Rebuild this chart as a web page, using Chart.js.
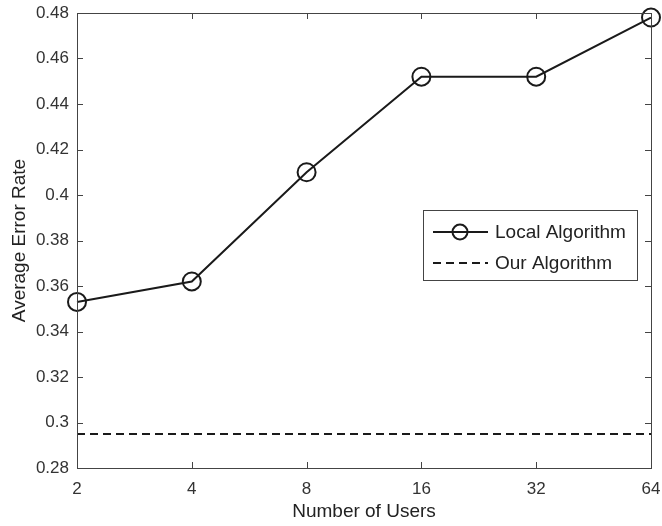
<!DOCTYPE html>
<html>
<head>
<meta charset="utf-8">
<script src="https://cdn.jsdelivr.net/npm/chart.js@4"></script>
<style>
  body { margin: 0; background: #fff; }
  #wrap { width: 662px; height: 526px; }
</style>
</head>
<body>
<div id="wrap"><canvas id="c" width="662" height="526"></canvas></div>
<script>
// data
const users = ['2', '4', '8', '16', '32', '64'];
const localAlgorithm = [0.353, 0.362, 0.410, 0.452, 0.452, 0.478];
const ourAlgorithm = [0.295, 0.295, 0.295, 0.295, 0.295, 0.295];
const yTicks = [0.28, 0.30, 0.32, 0.34, 0.36, 0.38, 0.40, 0.42, 0.44, 0.46, 0.48];

const axisColor = '#444';
const font = "'Liberation Sans', Arial, sans-serif";

// matlab style box with inward ticks on all four sides
const boxPlugin = {
    id: 'box',
    afterDraw(chart) {
        const ctx = chart.ctx;
        const a = chart.chartArea;
        const x = chart.scales.x, y = chart.scales.y;
        ctx.save();
        ctx.strokeStyle = axisColor;
        ctx.lineWidth = 1;
        ctx.strokeRect(Math.round(a.left) + 0.5, Math.round(a.top) + 0.5,
            Math.round(a.right - a.left), Math.round(a.bottom - a.top));
        ctx.beginPath();
        for (let i = 0; i < users.length; i++) {
            let px = Math.round(x.getPixelForValue(i)) + 0.5;
            ctx.moveTo(px, a.bottom); ctx.lineTo(px, a.bottom - 6);
            ctx.moveTo(px, a.top); ctx.lineTo(px, a.top + 6);
        }
        for (let i = 0; i < yTicks.length; i++) {
            let py = Math.round(y.getPixelForValue(yTicks[i])) + 0.5;
            ctx.moveTo(a.left, py); ctx.lineTo(a.left + 6, py);
            ctx.moveTo(a.right, py); ctx.lineTo(a.right - 6, py);
        }
        ctx.stroke();
        ctx.restore();
    }
};

// legend box drawn from the datasets
const legendPlugin = {
    id: 'boxLegend',
    afterDraw(chart) {
        const ctx = chart.ctx;
        const bx = 423, by = 210, bw = 214, bh = 70;
        ctx.save();
        ctx.fillStyle = '#fff';
        ctx.fillRect(bx, by, bw, bh);
        ctx.strokeStyle = axisColor;
        ctx.lineWidth = 1;
        ctx.strokeRect(bx + 0.5, by + 0.5, bw, bh);
        ctx.font = '19px ' + font;
        ctx.textBaseline = 'middle';
        chart.data.datasets.forEach((ds, i) => {
            let ry = by + 22 + i * 31;
            ctx.strokeStyle = ds.borderColor;
            ctx.lineWidth = ds.borderWidth;
            ctx.setLineDash(ds.borderDash || []);
            ctx.beginPath();
            ctx.moveTo(433, ry); ctx.lineTo(488, ry);
            ctx.stroke();
            ctx.setLineDash([]);
            if (ds.pointRadius > 0) {
                ctx.beginPath();
                ctx.arc(460, ry, 7.5, 0, Math.PI * 2);
                ctx.stroke();
            }
            ctx.fillStyle = '#222';
            ctx.fillText(ds.label, 495, ry + 1);
        });
        ctx.restore();
    }
};

new Chart(document.getElementById('c'), {
    type: 'line',
    data: {
        labels: users,
        datasets: [
            {
                label: 'Local Algorithm',
                data: localAlgorithm,
                borderColor: '#1a1a1a',
                borderWidth: 2,
                pointStyle: 'circle',
                pointRadius: 9,
                pointBorderWidth: 2,
                pointBackgroundColor: 'rgba(0,0,0,0)',
                pointBorderColor: '#1a1a1a',
                tension: 0,
                clip: false
            },
            {
                label: 'Our Algorithm',
                data: ourAlgorithm,
                borderColor: '#1a1a1a',
                borderWidth: 2,
                borderDash: [8, 5],
                pointRadius: 0,
                tension: 0
            }
        ]
    },
    options: {
        responsive: false,
        animation: false,
        layout: { padding: { left: 0, top: 13, right: 5, bottom: 0 } },
        plugins: { legend: { display: false }, tooltip: { enabled: false } },
        scales: {
            x: {
                grid: { display: false, drawTicks: false },
                border: { display: false },
                ticks: { color: '#333', font: { family: font, size: 17 }, padding: 11, maxRotation: 0 },
                title: { display: true, text: 'Number of Users', color: '#222',
                    font: { family: font, size: 19 }, padding: { top: 0, bottom: 3 } },
                afterFit(s) {
                    s.height = 58;
                    s.paddingLeft = 0;
                    s.paddingRight = 0;
                }
            },
            y: {
                min: 0.28,
                max: 0.48,
                grid: { display: false, drawTicks: false },
                border: { display: false },
                afterBuildTicks(s) { s.ticks = yTicks.map(v => ({ value: v })); },
                ticks: {
                    color: '#333',
                    font: { family: font, size: 17 },
                    padding: 8,
                    callback: v => String(Number(v.toFixed(2)))
                },
                title: { display: true, text: 'Average Error Rate', color: '#222',
                    font: { family: font, size: 19 }, padding: { top: 8, bottom: 0 } },
                afterFit(s) {
                    s.width = 77;
                    s.paddingTop = 0;
                    s.paddingBottom = 0;
                }
            }
        }
    },
    plugins: [boxPlugin, legendPlugin]
});
</script>
</body>
</html>
